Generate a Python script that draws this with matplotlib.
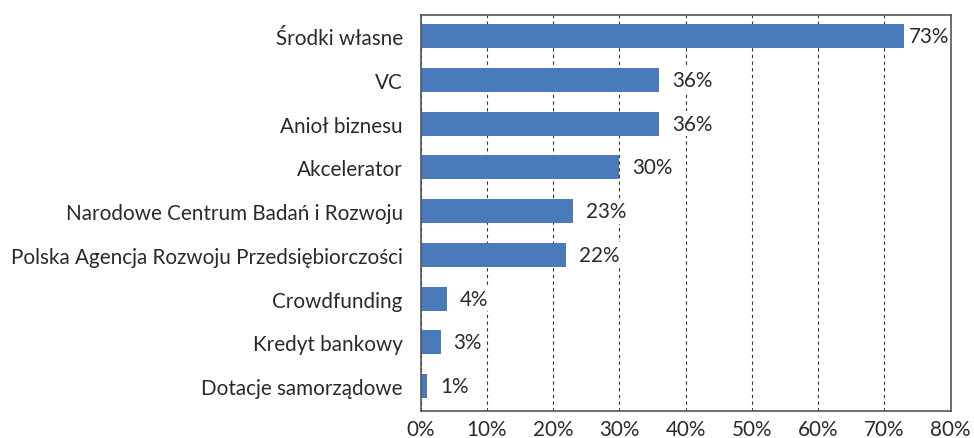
import matplotlib.pyplot as plt
from matplotlib.ticker import FuncFormatter

categories = ['Środki własne', 'VC', 'Anioł biznesu', 'Akcelerator',
              'Narodowe Centrum Badań i Rozwoju',
              'Polska Agencja Rozwoju Przedsiębiorczości',
              'Crowdfunding', 'Kredyt bankowy', 'Dotacje samorządowe']
values = [73, 36, 36, 30, 23, 22, 4, 3, 1]
xticks = [0, 10, 20, 30, 40, 50, 60, 70, 80]

plt.rcParams['font.family'] = ['Lato', 'DejaVu Sans']
txt = '#2a2a2a'
fs = 14.9

fig = plt.figure(figsize=(9.74, 4.39), dpi=100)
ax = fig.add_axes([0.432, 0.0615, 0.544, 0.902])

pos = list(range(len(categories)))
ax.barh(pos, values, height=0.55, color='#4a7abc', zorder=3)
for p, v in zip(pos, values):
    off = 3 if v > 70 else 9
    ax.annotate(f'{v}%', (v, p), xytext=(off, 0), textcoords='offset points',
                va='center', ha='left', fontsize=fs, color=txt, zorder=4,
                bbox=dict(boxstyle='square,pad=0.12', fc='white', ec='none'))

ax.set_yticks(pos)
ax.set_yticklabels(categories, fontsize=fs, color=txt)
ax.set_ylim(len(categories) - 0.43, -0.48)
ax.set_xlim(0, 80)
ax.set_xticks(xticks)
ax.xaxis.set_major_formatter(FuncFormatter(lambda x, _: f'{x:.0f}%'))
ax.tick_params(axis='x', labelsize=fs, colors=txt, length=0, pad=6)
ax.tick_params(axis='y', length=0, pad=13)
ax.grid(axis='x', linestyle=(0, (3, 3)), color='#333333', linewidth=0.8, zorder=1)
for s in ax.spines.values():
    s.set_color('#555555')
    s.set_linewidth(1.2)
    s.set_zorder(5)

fig.savefig('out.png', dpi=100)
